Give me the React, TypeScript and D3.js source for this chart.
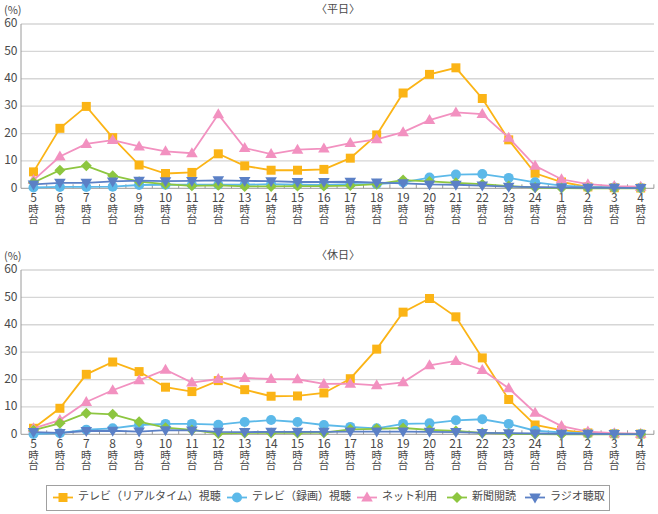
import React from 'react';
import * as d3 from 'd3';

const hours = ['5', '6', '7', '8', '9', '10', '11', '12', '13', '14', '15', '16', '17', '18', '19', '20', '21', '22', '23', '24', '1', '2', '3', '4'];
const yTicks = [0, 10, 20, 30, 40, 50, 60];

const seriesNames = ['テレビ（リアルタイム）視聴', 'テレビ（録画）視聴', 'ネット利用', '新聞閲読', 'ラジオ聴取'];
const seriesColors = ['#fbb416', '#5cb9e9', '#f291c0', '#8dc640', '#5b80c6'];
const seriesShapes = ['square', 'circle', 'triangleUp', 'diamond', 'triangleDown'];

// 平日
const wdTvLive = [6.0, 21.9, 29.9, 18.5, 8.5, 5.4, 5.8, 12.6, 8.2, 6.6, 6.6, 6.9, 11.0, 19.5, 34.8, 41.6, 44.0, 32.8, 17.7, 5.5, 2.3, 0.5, 0.2, 0.1];
const wdTvRec = [0.3, 0.5, 0.5, 0.6, 1.2, 1.3, 1.3, 1.3, 1.3, 1.5, 1.3, 1.2, 1.5, 1.5, 2.2, 3.9, 5.0, 5.2, 3.8, 2.2, 1.0, 0.5, 0.3, 0.2];
const wdNet = [3.0, 11.6, 16.2, 17.6, 15.3, 13.5, 12.8, 27.0, 14.7, 12.5, 14.1, 14.5, 16.5, 17.9, 20.5, 24.9, 27.7, 27.1, 18.5, 8.2, 3.3, 1.5, 0.8, 0.6];
const wdPaper = [2.1, 6.6, 8.2, 4.6, 2.4, 1.5, 0.9, 1.1, 0.7, 0.7, 0.8, 0.8, 1.0, 1.5, 3.0, 2.5, 2.0, 1.5, 0.8, 0.3, 0.1, 0.0, 0.0, 0.0];
const wdRadio = [1.4, 2.0, 2.0, 2.5, 2.8, 2.6, 2.7, 2.9, 2.7, 2.6, 2.3, 2.3, 2.4, 2.1, 1.8, 1.4, 1.3, 1.0, 0.6, 0.4, 0.3, 0.2, 0.2, 0.1];

// 休日
const hdTvLive = [2.2, 9.5, 21.9, 26.4, 22.9, 17.2, 15.6, 19.6, 16.3, 13.9, 14.0, 15.1, 20.3, 31.1, 44.6, 49.6, 42.9, 27.9, 12.7, 3.4, 1.5, 0.5, 0.2, 0.1];
const hdTvRec = [0.1, 0.4, 1.7, 2.2, 3.4, 3.8, 3.8, 3.5, 4.5, 5.2, 4.5, 3.4, 2.7, 2.2, 3.8, 4.0, 5.1, 5.5, 3.8, 1.3, 0.7, 0.3, 0.2, 0.1];
const hdNet = [2.2, 5.2, 11.8, 16.1, 19.7, 23.6, 18.9, 20.2, 20.6, 20.2, 20.1, 18.4, 18.5, 17.9, 19.0, 25.2, 26.8, 23.5, 16.8, 7.9, 3.0, 1.0, 0.4, 0.2];
const hdPaper = [1.5, 4.0, 7.7, 7.3, 4.6, 2.4, 1.6, 0.3, 0.5, 0.5, 0.5, 0.6, 1.8, 2.0, 2.3, 1.6, 1.2, 0.5, 0.2, 0.1, 0.0, 0.0, 0.0, 0.0];
const hdRadio = [0.8, 0.5, 1.2, 1.3, 1.0, 1.5, 1.4, 0.9, 0.8, 0.9, 0.9, 0.9, 1.0, 1.0, 1.0, 0.9, 0.8, 0.5, 0.4, 0.3, 0.2, 0.2, 0.1, 0.1];

const weekday = [wdTvLive, wdTvRec, wdNet, wdPaper, wdRadio];
const holiday = [hdTvLive, hdTvRec, hdNet, hdPaper, hdRadio];

const FONT = '"Noto Sans CJK JP", "Noto Sans", sans-serif';
const TEXT = '#4a4a4a';

const markerPath = (shape: string, x: number, y: number) => {
  switch (shape) {
    case 'square':
      return `M${x - 4.5},${y - 4.5}h9v9h-9Z`;
    case 'diamond':
      return `M${x},${y - 5.5}L${x + 5.5},${y}L${x},${y + 5.5}L${x - 5.5},${y}Z`;
    case 'triangleUp':
      return `M${x},${y - 6}L${x + 5.8},${y + 4}L${x - 5.8},${y + 4}Z`;
    case 'triangleDown':
      return `M${x},${y + 6}L${x + 5.8},${y - 4}L${x - 5.8},${y - 4}Z`;
    default:
      return '';
  }
};

const Marker: React.FC<{ shape: string; x: number; y: number; color: string }> = ({ shape, x, y, color }) =>
  shape === 'circle'
    ? <circle cx={x} cy={y} r={5} fill={color} />
    : <path d={markerPath(shape, x, y)} fill={color} />;

const x = d3.scalePoint<string>().domain(hours).range([33.5, 640.7]);
const step = x.step();

const Panel: React.FC<{ top: number; title: string; data: number[][] }> = ({ top, title, data }) => {
  const y = d3.scaleLinear().domain([0, 60]).range([top + 164.3, top]);
  const line = d3.line<number>()
    .x((_, i) => x(hours[i]) as number)
    .y(d => y(d));
  const y0 = y(0);

  return (
    <g>
      <text x={4} y={top - 10} fontSize={11} fill={TEXT} fontFamily={FONT}>(%)</text>
      <text x={338} y={top - 11} fontSize={11} fill={TEXT} fontFamily={FONT} textAnchor="middle">〈{title}〉</text>

      {yTicks.map(t => (
        <g key={`g-${t}`}>
          {t > 0 && <line x1={21} x2={654} y1={y(t)} y2={y(t)} stroke="#d6d6d6" strokeWidth={1.3} />}
          <text x={17.5} y={y(t)} fontSize={12} fill={TEXT} fontFamily={FONT} textAnchor="end" dominantBaseline="middle">{t}</text>
        </g>
      ))}

      <line x1={21} x2={21} y1={top} y2={y0} stroke="#9a9a9a" strokeWidth={1} />
      <line x1={21} x2={654} y1={y0} y2={y0} stroke="#9a9a9a" strokeWidth={1} />
      {hours.map((h, i) => {
        const bx = (x(h) as number) + step / 2;
        return <line key={`tk-${i}`} x1={bx} x2={bx} y1={y0} y2={y0 - 4} stroke="#9a9a9a" strokeWidth={1} />;
      })}

      {hours.map(h => {
        const cx = x(h) as number;
        return (
          <text key={`lbl-${h}`} x={cx} y={y0 + 14} fontFamily={FONT} fill={TEXT} textAnchor="middle" fontSize={12}>
            {h}
            <tspan x={cx} dy={10.5} fontSize={10.5}>時</tspan>
            <tspan x={cx} dy={10} fontSize={10.5}>台</tspan>
          </text>
        );
      })}

      {data.map((vals, si) => (
        <g key={`s-${si}`}>
          <path d={line(vals) || ''} fill="none" stroke={seriesColors[si]} strokeWidth={1.8} />
          {vals.map((v, i) => (
            <Marker key={`m-${si}-${i}`} shape={seriesShapes[si]} x={x(hours[i]) as number} y={y(v)} color={seriesColors[si]} />
          ))}
        </g>
      ))}
    </g>
  );
};

const legendX = [53, 227, 357, 447, 525];

export default function App() {
  return (
    <svg width={658} height={514} style={{ position: 'absolute', left: 0, top: 0, background: '#fff' }}>
      <Panel top={24} title="平日" data={weekday} />
      <Panel top={270} title="休日" data={holiday} />

      <rect x={46.5} y={485.5} width={563} height={25} fill="#fff" stroke="#a0a0a0" strokeWidth={1} />
      {seriesNames.map((name, i) => {
        const lx = legendX[i];
        const ly = 497.5;
        return (
          <g key={`lg-${i}`}>
            <line x1={lx} x2={lx + 20} y1={ly} y2={ly} stroke={seriesColors[i]} strokeWidth={1.8} />
            <Marker shape={seriesShapes[i]} x={lx + 10} y={ly} color={seriesColors[i]} />
            <text x={lx + 25} y={ly} fontSize={11} fill={TEXT} fontFamily={FONT} dominantBaseline="middle">{name}</text>
          </g>
        );
      })}
    </svg>
  );
}
